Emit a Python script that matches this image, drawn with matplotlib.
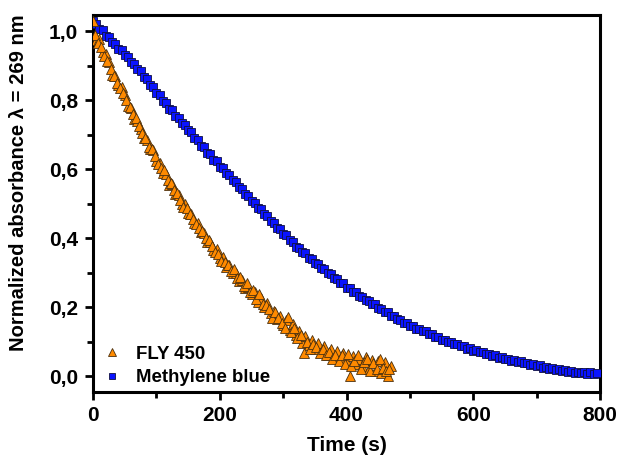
import matplotlib
matplotlib.use("Agg")
import matplotlib.pyplot as plt
from matplotlib.ticker import MultipleLocator, FuncFormatter

# ---- data ----
# FLY 450 (two interleaved reading passes)
fly_time_a = [0, 5, 10, 15, 20, 25, 30, 35, 40, 45, 50, 55, 60, 65, 70, 75, 80, 85, 90, 95,
              100, 105, 110, 115, 120, 125, 130, 135, 140, 145, 150, 155, 160, 165, 170, 175,
              180, 185, 190, 195, 200, 205, 210, 215, 220, 225, 230, 235, 240, 245, 250, 255,
              260, 265, 270, 275, 280, 285, 290, 295, 300, 305, 310, 315, 320, 325, 330, 335,
              340, 345, 350, 355, 360, 365, 370, 375, 380, 385, 390, 395, 400, 405, 410, 415,
              420, 425, 430, 435, 440, 445, 450, 455, 460, 465, 470]
fly_abs_a = [1.03, 0.975, 0.978, 0.94, 0.935, 0.91, 0.875, 0.872, 0.845, 0.838, 0.815, 0.785,
             0.778, 0.745, 0.74, 0.718, 0.69, 0.686, 0.66, 0.655, 0.625, 0.618, 0.59, 0.585,
             0.555, 0.556, 0.528, 0.525, 0.50, 0.50, 0.472, 0.47, 0.445, 0.445, 0.418, 0.415,
             0.39, 0.39, 0.365, 0.368, 0.342, 0.345, 0.318, 0.322, 0.298, 0.30, 0.275, 0.28,
             0.255, 0.26, 0.238, 0.243, 0.215, 0.228, 0.20, 0.212, 0.182, 0.19, 0.165, 0.175,
             0.148, 0.162, 0.135, 0.15, 0.118, 0.13, 0.095, 0.115, 0.09, 0.105, 0.078, 0.095,
             0.07, 0.088, 0.062, 0.08, 0.055, 0.072, 0.05, 0.068, 0.04, 0.0, 0.058, 0.035,
             0.05, 0.028, 0.055, 0.02, 0.048, 0.015, 0.045, 0.01, 0.04, 0.0, 0.03]
fly_time_b = [2.5, 7.5, 12.5, 17.5, 22.5, 27.5, 32.5, 37.5, 42.5, 47.5, 52.5, 57.5, 62.5, 67.5,
              72.5, 77.5, 82.5, 87.5, 92.5, 97.5, 102.5, 107.5, 112.5, 117.5, 122.5, 127.5,
              132.5, 137.5, 142.5, 147.5, 152.5, 157.5, 162.5, 167.5, 172.5, 177.5, 182.5,
              187.5, 192.5, 197.5, 202.5, 207.5, 212.5, 217.5, 222.5, 227.5, 232.5, 237.5,
              242.5, 247.5, 252.5, 257.5, 262.5, 267.5, 272.5, 277.5, 282.5, 287.5, 292.5,
              297.5, 302.5, 307.5, 312.5, 317.5, 322.5, 327.5, 332.5, 337.5, 342.5, 347.5,
              352.5, 357.5, 362.5, 367.5, 372.5, 377.5, 382.5, 387.5, 392.5, 397.5, 402.5,
              407.5, 412.5, 417.5, 422.5, 427.5, 432.5, 437.5, 442.5, 447.5, 452.5, 457.5,
              462.5, 467.5]
fly_abs_b = [0.99, 0.965, 0.955, 0.93, 0.915, 0.89, 0.87, 0.85, 0.835, 0.82, 0.80, 0.78, 0.76,
             0.748, 0.725, 0.706, 0.69, 0.665, 0.658, 0.64, 0.615, 0.605, 0.598, 0.57, 0.56,
             0.54, 0.53, 0.512, 0.49, 0.488, 0.47, 0.455, 0.44, 0.43, 0.42, 0.40, 0.395,
             0.378, 0.36, 0.355, 0.335, 0.332, 0.322, 0.305, 0.31, 0.285, 0.288, 0.262, 0.27,
             0.245, 0.25, 0.225, 0.238, 0.21, 0.205, 0.195, 0.17, 0.185, 0.17, 0.155, 0.14,
             0.172, 0.128, 0.14, 0.112, 0.12, 0.066, 0.10, 0.08, 0.092, 0.085, 0.068, 0.078,
             0.06, 0.07, 0.05, 0.062, 0.045, 0.06, 0.035, 0.065, 0.03, 0.045, 0.06, 0.022,
             0.04, 0.05, 0.015, 0.038, 0.02, 0.05, 0.025, 0.015, 0.02]

mb_time = [0, 5, 10, 15, 20, 25, 30, 35, 40, 45, 50, 55, 60, 65, 70, 75, 80, 85, 90, 95,
           100, 105, 110, 115, 120, 125, 130, 135, 140, 145, 150, 155, 160, 165, 170, 175,
           180, 185, 190, 195, 200, 205, 210, 215, 220, 225, 230, 235, 240, 245, 250, 255,
           260, 265, 270, 275, 280, 285, 290, 295, 300, 305, 310, 315, 320, 325, 330, 335,
           340, 345, 350, 355, 360, 365, 370, 375, 380, 385, 390, 395, 400, 405, 410, 415,
           420, 425, 430, 435, 440, 445, 450, 455, 460, 465, 470, 475, 480, 485, 490, 495,
           500, 505, 510, 515, 520, 525, 530, 535, 540, 545, 550, 555, 560, 565, 570, 575,
           580, 585, 590, 595, 600, 605, 610, 615, 620, 625, 630, 635, 640, 645, 650, 655,
           660, 665, 670, 675, 680, 685, 690, 695, 700, 705, 710, 715, 720, 725, 730, 735,
           740, 745, 750, 755, 760, 765, 770, 775, 780, 785, 790, 795]
mb_abs = [1.030, 1.022, 1.008, 1.003, 0.988, 0.983, 0.968, 0.963, 0.950, 0.946, 0.932, 0.927,
          0.912, 0.906, 0.890, 0.884, 0.868, 0.862, 0.846, 0.839, 0.822, 0.815, 0.798, 0.792,
          0.776, 0.771, 0.755, 0.750, 0.735, 0.729, 0.713, 0.707, 0.691, 0.685, 0.669, 0.664,
          0.648, 0.643, 0.628, 0.623, 0.608, 0.603, 0.588, 0.583, 0.568, 0.563, 0.548, 0.543,
          0.528, 0.523, 0.508, 0.503, 0.488, 0.484, 0.470, 0.465, 0.450, 0.445, 0.430, 0.426,
          0.412, 0.408, 0.394, 0.390, 0.376, 0.373, 0.359, 0.356, 0.343, 0.340, 0.327, 0.325,
          0.313, 0.311, 0.299, 0.297, 0.285, 0.283, 0.271, 0.269, 0.257, 0.256, 0.245, 0.244,
          0.233, 0.231, 0.221, 0.219, 0.209, 0.208, 0.197, 0.196, 0.186, 0.185, 0.175, 0.174,
          0.165, 0.164, 0.155, 0.154, 0.146, 0.146, 0.138, 0.138, 0.130, 0.130, 0.122, 0.122,
          0.114, 0.114, 0.106, 0.106, 0.098, 0.099, 0.092, 0.093, 0.086, 0.087, 0.080, 0.081,
          0.074, 0.075, 0.069, 0.070, 0.064, 0.065, 0.059, 0.060, 0.054, 0.056, 0.049, 0.051,
          0.045, 0.047, 0.041, 0.043, 0.037, 0.039, 0.033, 0.035, 0.029, 0.031, 0.025, 0.027,
          0.021, 0.023, 0.017, 0.020, 0.014, 0.017, 0.012, 0.015, 0.010, 0.013, 0.008, 0.012,
          0.007, 0.011, 0.006, 0.010]

series_labels = ["FLY 450", "Methylene blue"]
x_label = "Time (s)"
y_label = "Normalized absorbance λ = 269 nm"

fly_time = fly_time_a + fly_time_b
fly_abs = fly_abs_a + fly_abs_b

# ---- figure ----
plt.rcParams['font.family'] = ['Liberation Sans', 'DejaVu Sans']
fig = plt.figure(figsize=(6.21, 4.65), dpi=100)
ax = fig.add_axes([0.150, 0.157, 0.816, 0.811])

ax.plot(mb_time, mb_abs, linestyle='none', marker='s', markersize=5.4,
        markerfacecolor='#0a14ff', markeredgecolor='#101040', markeredgewidth=0.6,
        label=series_labels[1], zorder=3)
ax.plot(fly_time, fly_abs, linestyle='none', marker='^', markersize=7.5,
        markerfacecolor='#ff8a00', markeredgecolor='#4a3010', markeredgewidth=0.6,
        label=series_labels[0], zorder=4)

ax.set_xlim(0, 800)
ax.set_ylim(-0.046, 1.048)
ax.xaxis.set_major_locator(MultipleLocator(200))
ax.xaxis.set_minor_locator(MultipleLocator(100))
ax.yaxis.set_major_locator(MultipleLocator(0.2))
ax.yaxis.set_minor_locator(MultipleLocator(0.1))
ax.yaxis.set_major_formatter(FuncFormatter(lambda v, p: f"{v:.1f}".replace('.', ',').replace('-0,0', '0,0')))

for s in ax.spines.values():
    s.set_linewidth(2.2)
ax.tick_params(which='major', direction='out', length=6, width=2, labelsize=15)
ax.tick_params(axis='x', which='major', pad=4)
ax.tick_params(axis='y', which='major', pad=5)
ax.tick_params(which='minor', direction='out', length=4, width=2)
for lab in ax.get_xticklabels() + ax.get_yticklabels():
    lab.set_fontweight('bold')

ax.set_xlabel(x_label, fontsize=15, fontweight='bold', labelpad=8)
ax.set_ylabel(y_label, fontsize=14.5, fontweight='bold')
ax.yaxis.set_label_coords(-0.128, 0.554)

h, l = ax.get_legend_handles_labels()
leg = ax.legend(h[::-1], l[::-1], loc='lower left', frameon=False,
                prop={'weight': 'bold', 'size': 13.4}, markerscale=0.8,
                handlelength=1.0, handletextpad=0.8, borderaxespad=0.0,
                borderpad=0.3, labelspacing=0.35, bbox_to_anchor=(0.008, 0.0))

fig.savefig("out.png", dpi=100)
